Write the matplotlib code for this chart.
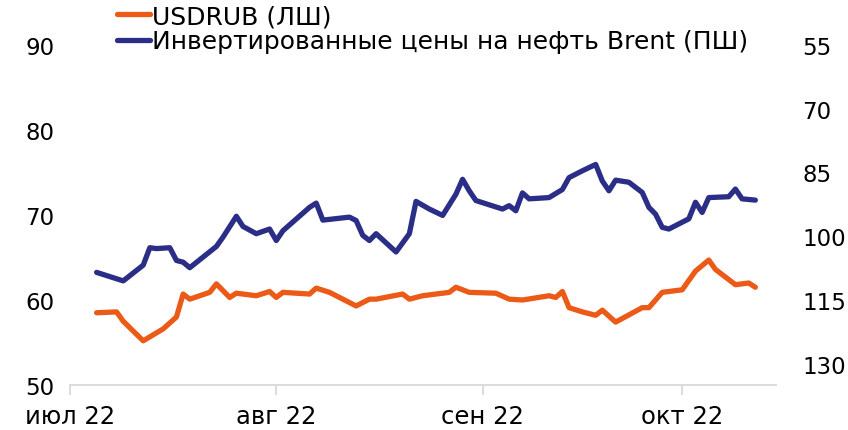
import matplotlib
matplotlib.use("Agg")
import matplotlib.pyplot as plt
import pandas as pd

# USDRUB, левая шкала
usd_dates = ["2022-07-05", "2022-07-08", "2022-07-09", "2022-07-12", "2022-07-15",
             "2022-07-17", "2022-07-18", "2022-07-19", "2022-07-22", "2022-07-23",
             "2022-07-25", "2022-07-26", "2022-07-29", "2022-07-31", "2022-08-01",
             "2022-08-02", "2022-08-06", "2022-08-07", "2022-08-09", "2022-08-13",
             "2022-08-15", "2022-08-16", "2022-08-20", "2022-08-21", "2022-08-23",
             "2022-08-27", "2022-08-28", "2022-08-30", "2022-09-03", "2022-09-05",
             "2022-09-07", "2022-09-11", "2022-09-12", "2022-09-13", "2022-09-14",
             "2022-09-16", "2022-09-18", "2022-09-19", "2022-09-21", "2022-09-25",
             "2022-09-26", "2022-09-28", "2022-10-01", "2022-10-03", "2022-10-05",
             "2022-10-06", "2022-10-09", "2022-10-11", "2022-10-12"]
usd_values = [58.5, 58.6, 57.5, 55.2, 56.6,
              58.0, 60.7, 60.1, 60.9, 61.9,
              60.3, 60.8, 60.5, 61.0, 60.3,
              60.9, 60.7, 61.4, 60.9, 59.3,
              60.1, 60.1, 60.7, 60.1, 60.5,
              60.9, 61.5, 60.9, 60.8, 60.1,
              60.0, 60.5, 60.3, 61.0, 59.1,
              58.6, 58.2, 58.8, 57.4, 59.1,
              59.1, 60.9, 61.2, 63.4, 64.7,
              63.6, 61.8, 62.0, 61.5]

# Brent, правая (инвертированная) шкала
brent_dates = ["2022-07-05", "2022-07-09", "2022-07-12", "2022-07-13", "2022-07-14",
               "2022-07-16", "2022-07-17", "2022-07-18", "2022-07-19", "2022-07-23",
               "2022-07-24", "2022-07-26", "2022-07-27", "2022-07-29", "2022-07-31",
               "2022-08-01", "2022-08-02", "2022-08-06", "2022-08-07", "2022-08-08",
               "2022-08-12", "2022-08-13", "2022-08-14", "2022-08-15", "2022-08-16",
               "2022-08-19", "2022-08-21", "2022-08-22", "2022-08-24", "2022-08-26",
               "2022-08-28", "2022-08-29", "2022-08-30", "2022-08-31", "2022-09-04",
               "2022-09-05", "2022-09-06", "2022-09-07", "2022-09-08", "2022-09-11",
               "2022-09-13", "2022-09-14", "2022-09-16", "2022-09-18", "2022-09-19",
               "2022-09-20", "2022-09-21", "2022-09-23", "2022-09-25", "2022-09-26",
               "2022-09-27", "2022-09-28", "2022-09-29", "2022-10-02", "2022-10-03",
               "2022-10-04", "2022-10-05", "2022-10-08", "2022-10-09", "2022-10-10",
               "2022-10-12"]
brent_values = [108.5, 110.5, 106.8, 102.7, 102.9,
                102.7, 105.7, 106.1, 107.4, 102.4,
                100.2, 95.3, 97.7, 99.4, 98.3,
                101.0, 98.7, 93.2, 92.2, 96.2,
                95.5, 96.3, 99.8, 101.0, 99.4,
                103.7, 99.4, 91.8, 93.6, 95.1,
                90.1, 86.6, 89.3, 91.6, 93.6,
                92.8, 94.0, 89.8, 91.2, 90.9,
                89.0, 86.2, 84.6, 83.1, 87.0,
                89.3, 86.8, 87.3, 89.7, 93.2,
                94.8, 97.9, 98.3, 95.9, 92.0,
                94.4, 90.9, 90.7, 88.9, 91.2,
                91.5]

month_ticks = ["2022-07-01", "2022-08-01", "2022-09-01", "2022-10-01"]
month_labels = ["июл 22", "авг 22", "сен 22", "окт 22"]

orange = "#EB5A17"
blue = "#2B2E86"
grey = "#D9D9D9"
fs = 16.5
fs_leg = 18

plt.rcParams["font.family"] = ["DejaVu Sans"]

fig = plt.figure(figsize=(8.48, 4.31), dpi=100)
ax = fig.add_axes([70 / 848, 1 - 386 / 431, (776 - 70) / 848, (386 - 46) / 431])
ax2 = ax.twinx()

l1, = ax.plot(pd.to_datetime(usd_dates), usd_values, color=orange, lw=3.8,
              solid_joinstyle="round", solid_capstyle="round", label="USDRUB (ЛШ)")
l2, = ax2.plot(pd.to_datetime(brent_dates), brent_values, color=blue, lw=3.8,
               solid_joinstyle="round", solid_capstyle="round",
               label="Инвертированные цены на нефть Brent (ПШ)")

x0 = pd.Timestamp("2022-07-01")
ax.set_xlim(x0, x0 + pd.Timedelta(days=106.1))

ax.set_ylim(50, 90)
ax.set_yticks(range(50, 91, 10))
ax2.set_ylim(135, 55)
ax2.set_yticks(range(55, 131, 15))

ax.set_xticks(pd.to_datetime(month_ticks))
ax.set_xticklabels(month_labels)

for a in (ax, ax2):
    for s in ("top", "left", "right", "bottom"):
        a.spines[s].set_visible(False)
ax.spines["bottom"].set_visible(True)
ax.spines["bottom"].set_color(grey)
ax.spines["bottom"].set_linewidth(1.3)

ax.tick_params(axis="x", length=7, width=1.3, color=grey, labelsize=17.5, pad=7)
ax.tick_params(axis="y", length=0, labelsize=fs, pad=11)
ax2.tick_params(axis="y", length=0, labelsize=fs, pad=19)

fig.legend(handles=[l1, l2], loc="upper left", bbox_to_anchor=(117 / 848, 1 - 5 / 431),
           frameon=False, fontsize=fs_leg, handlelength=1.3, handletextpad=0.12,
           labelspacing=0.05, borderpad=0, borderaxespad=0)

fig.savefig("out.png", dpi=100)
